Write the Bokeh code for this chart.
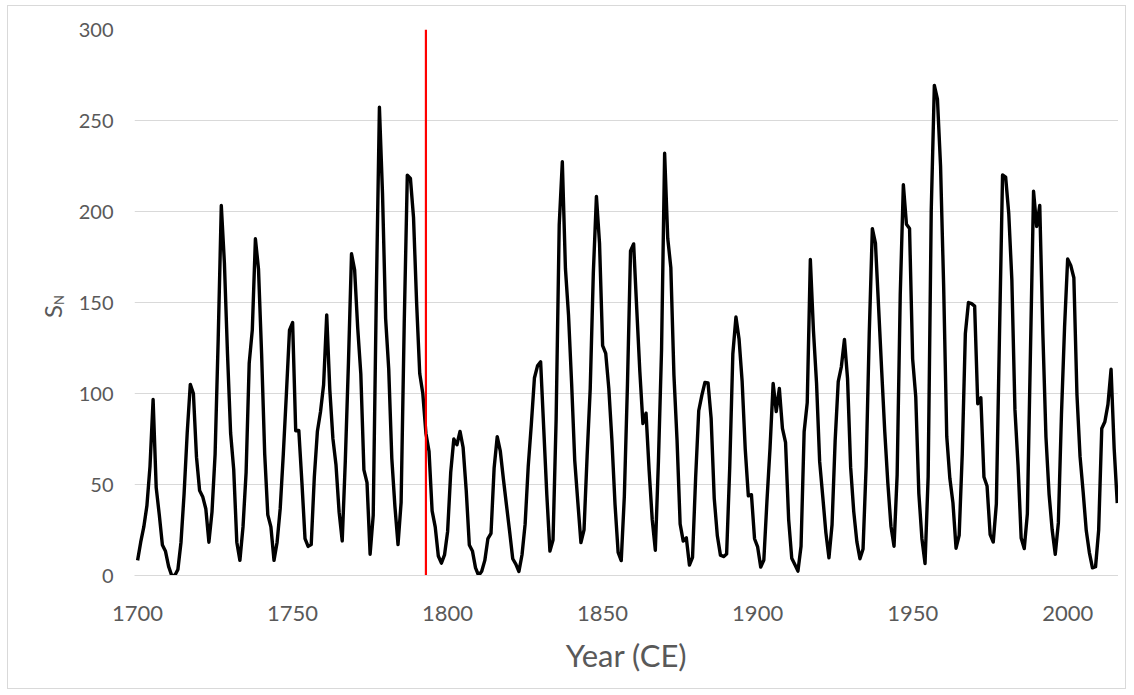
from bokeh.plotting import figure
from bokeh.models import Range1d, FixedTicker, Div
from bokeh.layouts import row
from bokeh.embed import file_html
from bokeh.resources import INLINE

# ---- data -------------------------------------------------------------
years = list(range(1700, 2017))
sunspot_number = [
    8.3, 18.3, 26.7, 38.3, 60.0, 96.7, 48.3, 33.3, 16.7, 13.3,          # 1700
    5.0, 0.0, 0.0, 3.3, 18.3, 45.0, 78.3, 105.0, 100.0, 65.0,           # 1710
    46.7, 43.3, 36.7, 18.3, 35.0, 66.7, 130.0, 203.3, 171.7, 121.7,     # 1720
    78.3, 58.3, 18.3, 8.3, 26.7, 56.7, 116.7, 135.0, 185.0, 168.3,      # 1730
    121.7, 66.7, 33.3, 26.7, 8.3, 18.3, 36.7, 66.7, 100.0, 134.8,       # 1740
    139.0, 79.5, 79.7, 51.2, 20.3, 16.0, 17.0, 54.0, 79.3, 90.0,        # 1750
    104.8, 143.2, 102.0, 75.2, 60.7, 34.8, 19.0, 63.0, 116.3, 176.8,    # 1760
    168.0, 136.0, 110.8, 58.0, 51.0, 11.7, 33.0, 154.2, 257.3, 209.8,   # 1770
    141.3, 113.5, 64.2, 38.0, 17.0, 40.2, 138.2, 220.0, 218.2, 196.8,   # 1780
    149.8, 111.0, 100.0, 78.2, 68.3, 35.5, 26.7, 10.7, 6.8, 11.3,       # 1790
    24.2, 56.7, 75.0, 71.8, 79.2, 70.3, 46.8, 16.8, 13.5, 4.2,          # 1800
    0.0, 2.3, 8.3, 20.3, 23.2, 59.0, 76.3, 68.3, 52.9, 38.5,            # 1810
    24.2, 9.2, 6.3, 2.2, 11.4, 28.2, 59.9, 83.0, 108.5, 115.2,          # 1820
    117.4, 80.8, 44.3, 13.4, 19.5, 85.8, 192.7, 227.3, 168.7, 143.0,    # 1830
    105.5, 63.3, 40.3, 18.1, 25.1, 65.8, 102.7, 166.3, 208.3, 182.5,    # 1840
    126.3, 122.0, 102.7, 74.1, 39.0, 12.7, 8.2, 43.4, 104.4, 178.3,     # 1850
    182.2, 146.6, 112.1, 83.5, 89.2, 57.8, 30.7, 13.9, 62.8, 123.6,     # 1860
    232.0, 185.3, 169.2, 110.1, 74.5, 28.3, 18.9, 20.7, 5.7, 10.0,      # 1870
    53.7, 90.5, 99.0, 106.1, 105.8, 86.3, 42.4, 21.8, 11.2, 10.4,       # 1880
    11.8, 59.5, 121.7, 142.0, 130.0, 106.6, 69.4, 43.8, 44.4, 20.2,     # 1890
    15.7, 4.6, 8.5, 40.8, 70.1, 105.5, 90.1, 102.8, 80.9, 73.2,         # 1900
    30.9, 9.5, 6.0, 2.4, 16.1, 79.0, 95.0, 173.6, 134.6, 105.7,         # 1910
    62.7, 43.5, 23.7, 9.7, 27.9, 74.0, 106.5, 114.7, 129.7, 108.2,      # 1920
    59.4, 35.1, 18.6, 9.2, 14.6, 60.2, 132.8, 190.6, 182.6, 148.0,      # 1930
    113.0, 79.2, 50.8, 27.1, 16.1, 55.3, 154.3, 214.7, 193.0, 190.7,    # 1940
    118.9, 98.3, 45.0, 20.1, 6.6, 54.2, 200.7, 269.3, 261.7, 225.1,     # 1950
    159.0, 76.4, 53.4, 39.9, 15.0, 22.0, 66.8, 132.9, 150.0, 149.4,     # 1960
    148.0, 94.4, 97.6, 54.1, 49.2, 22.5, 18.4, 39.3, 131.0, 220.1,      # 1970
    218.9, 198.9, 162.4, 91.0, 60.5, 20.6, 14.8, 33.9, 123.0, 211.1,    # 1980
    191.8, 203.3, 133.0, 76.1, 44.9, 25.1, 11.6, 28.9, 88.3, 136.3,     # 1990
    173.9, 170.4, 163.6, 99.3, 65.3, 45.8, 24.7, 12.6, 4.2, 4.8,        # 2000
    24.9, 80.8, 84.5, 94.0, 113.3, 69.8, 39.8,                          # 2010
]
marker_year = [1793, 1793]
marker_span = [0, 300]
x_ticks = [1700, 1750, 1800, 1850, 1900, 1950, 2000]
y_ticks = [0, 50, 100, 150, 200, 250, 300]
y_title_main = "S"
y_title_sub = "N"
x_title = "Year (CE)"

# ---- layout -----------------------------------------------------------
FONT = "Lato"
GREY = "#595959"
H = 679
DIV_W = 70

# y-axis title (S with subscript N), rotated, as HTML text
title_html = (
    f'<div style="position:relative;width:{DIV_W}px;height:{H}px;">'
    f'<div style="position:absolute;left:41px;top:318px;white-space:nowrap;'
    f'transform:rotate(-90deg);transform-origin:0 0;line-height:1;'
    f'font-family:{FONT};font-size:24px;color:{GREY};">'
    f'{y_title_main}<span style="font-size:13px;position:relative;top:2px;">'
    f'{y_title_sub}</span></div>'
    f'<div style="position:absolute;left:7px;top:5px;width:1119px;height:684px;'
    f'border:1px solid #d9d9d9;z-index:10;pointer-events:none;"></div>'
    f'</div>'
)
ytitle = Div(text=title_html, width=DIV_W, height=H, margin=0,
             styles={"overflow": "visible", "z-index": "10"})

p = figure(width=1118 - DIV_W, height=H, output_backend="svg", toolbar_location=None,
           x_range=Range1d(1699.0, 2016.4), y_range=Range1d(0, 300),
           min_border_left=134 - DIV_W, min_border_right=0, min_border_top=29,
           min_border_bottom=104)
p.outline_line_color = None
p.background_fill_color = "white"
p.border_fill_color = "white"

p.line(years, sunspot_number, line_color="black", line_width=3.4, line_join="round")
p.line(marker_year, marker_span, line_color="#ff0000", line_width=2.2)

p.xgrid.grid_line_color = None
p.ygrid.grid_line_color = "#d9d9d9"
p.ygrid.grid_line_width = 1
p.ygrid.ticker = FixedTicker(ticks=y_ticks)

p.xaxis.ticker = FixedTicker(ticks=x_ticks)
p.xaxis.axis_line_color = "#d9d9d9"
p.xaxis.major_tick_line_color = None
p.xaxis.minor_tick_line_color = None
p.xaxis.major_tick_out = 0
p.xaxis.major_tick_in = 0
p.xaxis.major_label_text_font = FONT
p.xaxis.major_label_text_font_size = "22px"
p.xaxis.major_label_text_color = GREY
p.xaxis.major_label_standoff = 30
p.xaxis.axis_label = x_title
p.xaxis.axis_label_text_font = FONT
p.xaxis.axis_label_text_font_size = "31px"
p.xaxis.axis_label_text_font_style = "normal"
p.xaxis.axis_label_text_color = GREY
p.xaxis.axis_label_standoff = 12

p.yaxis.ticker = FixedTicker(ticks=y_ticks)
p.yaxis.axis_line_color = None
p.yaxis.major_tick_line_color = None
p.yaxis.minor_tick_line_color = None
p.yaxis.major_tick_out = 0
p.yaxis.major_tick_in = 0
p.yaxis.major_label_text_font = FONT
p.yaxis.major_label_text_font_size = "20px"
p.yaxis.major_label_text_color = GREY
p.yaxis.major_label_standoff = 21

layout = row(ytitle, p, spacing=0)
open("out.html", "w").write(file_html(layout, INLINE))
